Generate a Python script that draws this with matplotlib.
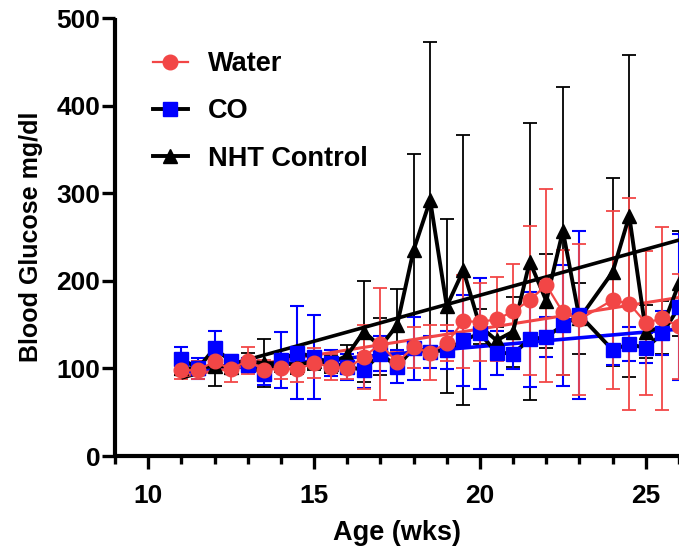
import numpy as np
import matplotlib
matplotlib.use('Agg')
import matplotlib.pyplot as plt
from matplotlib.ticker import MultipleLocator
from matplotlib.lines import Line2D

weeks = [11, 11.5, 12, 12.5, 13, 13.5, 14, 14.5, 15, 15.5, 16, 16.5, 17, 17.5,
         18, 18.5, 19, 19.5, 20, 20.5, 21, 21.5, 22, 22.5, 23, 24, 24.5, 25, 25.5, 26]

water_mean = [98, 98, 108, 99, 109, 98, 100, 99, 106, 102, 100, 113, 128, 107,
              124, 118, 129, 154, 153, 156, 165, 178, 195, 164, 156, 178, 174, 152, 157, 148]
water_sd = [10, 10, 12, 15, 15, 12, 12, 15, 17, 15, 12, 37, 64, 12,
            23, 31, 20, 53, 45, 48, 54, 85, 110, 71, 86, 102, 121, 82, 104, 60]

co_mean = [111, 100, 123, 108, 104, 94, 110, 118, 113, 106, 102, 98, 117, 102,
           123, 119, 121, 132, 140, 118, 117, 133, 136, 149, 161, 121, 128, 123, 140, 170]
co_sd = [14, 12, 20, 7, 8, 13, 32, 53, 48, 15, 15, 20, 20, 19,
         36, 18, 22, 52, 63, 25, 18, 54, 23, 69, 96, 17, 19, 17, 25, 83]

nht_mean = [100, 100, 103, 102, 108, 106, 106, 104, 108, 105, 115, 142, 125, 149,
            235, 292, 171, 212, 148, 132, 142, 222, 177, 257, 157, 210, 274, 142, 147, 197]
nht_sd = [8, 8, 23, 8, 10, 27, 10, 10, 10, 10, 12, 58, 32, 42,
          110, 181, 99, 154, 20, 15, 40, 158, 54, 164, 40, 107, 184, 30, 30, 60]

# linear-regression trend lines shown in the figure (slope per week, intercept)
# order: Water, CO, NHT Control
trend_slope = [6.0, 3.3, 10.5]
trend_intercept = [25.0, 59.0, -26.5]

labels = ['Water', 'CO', 'NHT Control']

RED = '#F24646'
BLUE = '#0000FF'
BLACK = '#000000'

plt.rcParams['font.family'] = ['Liberation Sans', 'DejaVu Sans']
plt.rcParams['font.weight'] = 'bold'

fig = plt.figure(figsize=(6.79, 5.48), dpi=100)
ax = fig.add_axes([115/679, 92/548, 564/679, 438/548])

x = np.array(weeks, dtype=float)
cap = 4.8

# error bars
ax.errorbar(x, nht_mean, yerr=nht_sd, fmt='none', ecolor=BLACK, elinewidth=1.3,
            capsize=cap, capthick=1.3, zorder=1)
ax.errorbar(x, co_mean, yerr=co_sd, fmt='none', ecolor=BLUE, elinewidth=1.5,
            capsize=cap, capthick=1.5, zorder=1.1)
ax.errorbar(x, water_mean, yerr=water_sd, fmt='none', ecolor=RED, elinewidth=1.3,
            capsize=cap, capthick=1.3, zorder=1.2)

# linear regression lines
xf = np.array([x.min(), 27.0])
for k, b, col, lw in [(trend_slope[2], trend_intercept[2], BLACK, 2.6),
                      (trend_slope[1], trend_intercept[1], BLUE, 2.6),
                      (trend_slope[0], trend_intercept[0], RED, 2.2)]:
    ax.plot(xf, k * xf + b, color=col, lw=lw, zorder=2, solid_capstyle='butt')

# data lines + markers
ax.plot(x, nht_mean, color=BLACK, lw=2.8, marker='^', ms=10, mfc=BLACK, mec=BLACK, zorder=3)
ax.plot(x, co_mean, color=BLACK, lw=2.8, marker='s', ms=9.5, mfc=BLUE, mec=BLUE, zorder=4)
ax.plot(x, water_mean, color=RED, lw=1.6, marker='o', ms=10.5, mfc=RED, mec=RED, zorder=5)

ax.set_xlim(9, 26)
ax.set_ylim(0, 500)
ax.xaxis.set_major_locator(MultipleLocator(5))
ax.xaxis.set_minor_locator(MultipleLocator(1))
ax.yaxis.set_major_locator(MultipleLocator(100))

for s in ['top', 'right']:
    ax.spines[s].set_visible(False)
for s in ['left', 'bottom']:
    ax.spines[s].set_linewidth(3)
    ax.spines[s].set_capstyle('butt')

ax.tick_params(axis='both', which='major', length=9.5, width=2.4, labelsize=19, direction='out')
ax.tick_params(axis='x', which='minor', length=5.5, width=2.4, direction='out')
ax.tick_params(axis='x', which='major', pad=11)
ax.tick_params(axis='y', which='major', pad=1)
for lab in ax.get_xticklabels() + ax.get_yticklabels():
    lab.set_fontweight('bold')

ax.set_xlabel('Age (wks)', fontsize=19.5, fontweight='bold', labelpad=8)
ax.set_ylabel('Blood Glucose mg/dl', fontsize=18, fontweight='bold', labelpad=10)

handles = [
    Line2D([], [], color=RED, lw=1.6, marker='o', ms=10.5, mfc=RED, mec=RED),
    Line2D([], [], color=BLACK, lw=2.8, marker='s', ms=9.5, mfc=BLUE, mec=BLUE),
    Line2D([], [], color=BLACK, lw=2.8, marker='^', ms=10, mfc=BLACK, mec=BLACK),
]
ax.legend(handles, labels, loc='upper left', bbox_to_anchor=(0.067, 0.924),
          frameon=False, handlelength=1.3, handletextpad=0.75, labelspacing=0.78,
          borderaxespad=0, borderpad=0, prop={'size': 19.5, 'weight': 'bold'})

fig.savefig('out.png', dpi=100)
